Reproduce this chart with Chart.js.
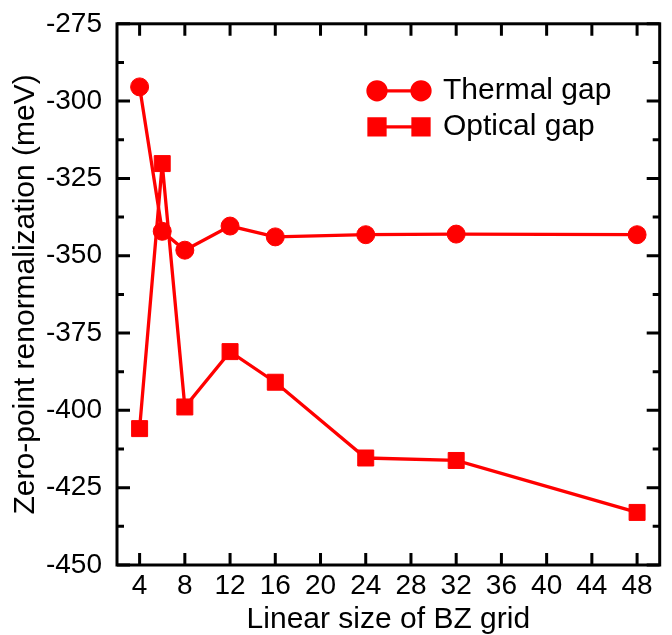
<!DOCTYPE html>
<html>
<head>
<meta charset="utf-8">
<script src="https://cdn.jsdelivr.net/npm/chart.js@4.4.1/dist/chart.umd.min.js"></script>
<style>
  html, body { margin: 0; padding: 0; background: #fff; }
</style>
</head>
<body>
<canvas id="zprChart" width="672" height="635"></canvas>
<script>
// linear size of the BZ grid
const gridSizes = [4, 6, 8, 12, 16, 24, 32, 48];

// zero-point renormalization (meV)
const thermalGap = [-295.4, -342.1, -348.2, -340.4, -343.9, -343.2, -343.0, -343.2];
const opticalGap = [-405.9, -320.2, -398.9, -381.0, -390.9, -415.4, -416.2, -433.0];

// axis ticks
const xTicks = [4, 8, 12, 16, 20, 24, 28, 32, 36, 40, 44, 48];
const yTicks = [-450, -425, -400, -375, -350, -325, -300, -275];
const yMinorTicks = [-437.5, -412.5, -387.5, -362.5, -337.5, -312.5, -287.5];

const seriesNames = ["Thermal gap", "Optical gap"];

const RED = "#ff0000";
Chart.defaults.font.family = '"Liberation Sans", Arial, Helvetica, sans-serif';
Chart.defaults.color = "#000";

// box frame + inward ticks on all four sides
const frameTicks = {
    id: "frameTicks",
    afterDraw(chart) {
        const { ctx, chartArea: a, scales } = chart;
        ctx.save();
        ctx.strokeStyle = "#000";
        ctx.lineWidth = 3;
        ctx.strokeRect(a.left, a.top, a.right - a.left, a.bottom - a.top);

        ctx.beginPath();
        xTicks.forEach(v => {
            const px = scales.x.getPixelForValue(v);
            ctx.moveTo(px, a.bottom); ctx.lineTo(px, a.bottom - 12);
            ctx.moveTo(px, a.top); ctx.lineTo(px, a.top + 12);
        });
        yTicks.forEach(v => {
            const py = scales.y.getPixelForValue(v);
            ctx.moveTo(a.left, py); ctx.lineTo(a.left + 13, py);
            ctx.moveTo(a.right, py); ctx.lineTo(a.right - 13, py);
        });
        yMinorTicks.forEach(v => {
            const py = scales.y.getPixelForValue(v);
            ctx.moveTo(a.left, py); ctx.lineTo(a.left + 7, py);
            ctx.moveTo(a.right, py); ctx.lineTo(a.right - 7, py);
        });
        ctx.stroke();
        ctx.restore();
    }
};

// legend inside the plot: marker - line - marker + label
const insideLegend = {
    id: "insideLegend",
    afterDraw(chart) {
        const { ctx, chartArea: a } = chart;
        const x1 = a.left + 260, x2 = a.left + 304;
        const rows = [a.top + 67, a.top + 103];
        ctx.save();
        chart.data.datasets.forEach((ds, i) => {
            const y = rows[i];
            ctx.strokeStyle = ds.borderColor;
            ctx.lineWidth = ds.borderWidth;
            ctx.beginPath();
            ctx.moveTo(x1, y); ctx.lineTo(x2, y);
            ctx.stroke();
            ctx.fillStyle = ds.pointBackgroundColor;
            [x1, x2].forEach(x => {
                Chart.helpers.drawPoint(ctx, {
                    pointStyle: ds.pointStyle, radius: ds.pointRadius,
                    rotation: 0, borderWidth: 1
                }, x, y);
            });
            ctx.fillStyle = "#000";
            ctx.font = '30px "Liberation Sans", Arial, sans-serif';
            ctx.textBaseline = "alphabetic";
            ctx.fillText(ds.label, x2 + 22, y + 8);
        });
        ctx.restore();
    }
};

function toPoints(values) {
    return gridSizes.map((g, i) => ({ x: g, y: values[i] }));
}

new Chart(document.getElementById("zprChart"), {
    type: "line",
    data: {
        datasets: [
            {
                label: seriesNames[0],
                data: toPoints(thermalGap),
                borderColor: RED,
                borderWidth: 3.3,
                pointStyle: "circle",
                pointRadius: 9,
                pointBackgroundColor: RED,
                pointBorderColor: RED,
                pointBorderWidth: 1
            },
            {
                label: seriesNames[1],
                data: toPoints(opticalGap),
                borderColor: RED,
                borderWidth: 3.3,
                pointStyle: "rect",
                pointRadius: 11.3,
                pointBackgroundColor: RED,
                pointBorderColor: RED,
                pointBorderWidth: 1
            }
        ]
    },
    options: {
        responsive: false,
        devicePixelRatio: 1,
        animation: false,
        clip: false,
        layout: { padding: { top: 19, right: 11, left: 0, bottom: 0 } },
        plugins: {
            legend: { display: false },
            tooltip: { enabled: false }
        },
        scales: {
            x: {
                type: "linear",
                min: 2,
                max: 50,
                afterBuildTicks: s => { s.ticks = xTicks.map(v => ({ value: v })); },
                afterFit: s => { s.height = 70; },
                grid: { display: false },
                border: { display: false },
                ticks: { font: { size: 28 }, color: "#000", padding: -4, maxRotation: 0, autoSkip: false },
                title: {
                    display: true,
                    text: "Linear size of BZ grid",
                    font: { size: 30, lineHeight: 1 },
                    color: "#000",
                    padding: { top: 0, bottom: 0 }
                }
            },
            y: {
                min: -450,
                max: -275,
                afterBuildTicks: s => { s.ticks = yTicks.map(v => ({ value: v })); },
                afterFit: s => { s.width = 117; },
                grid: { display: false },
                border: { display: false },
                ticks: { font: { size: 28 }, color: "#000", padding: 7 },
                title: {
                    display: true,
                    text: "Zero-point renormalization (meV)",
                    font: { size: 30 },
                    color: "#000",
                    padding: { top: 8, bottom: 0 }
                }
            }
        }
    },
    plugins: [frameTicks, insideLegend]
});
</script>
</body>
</html>
